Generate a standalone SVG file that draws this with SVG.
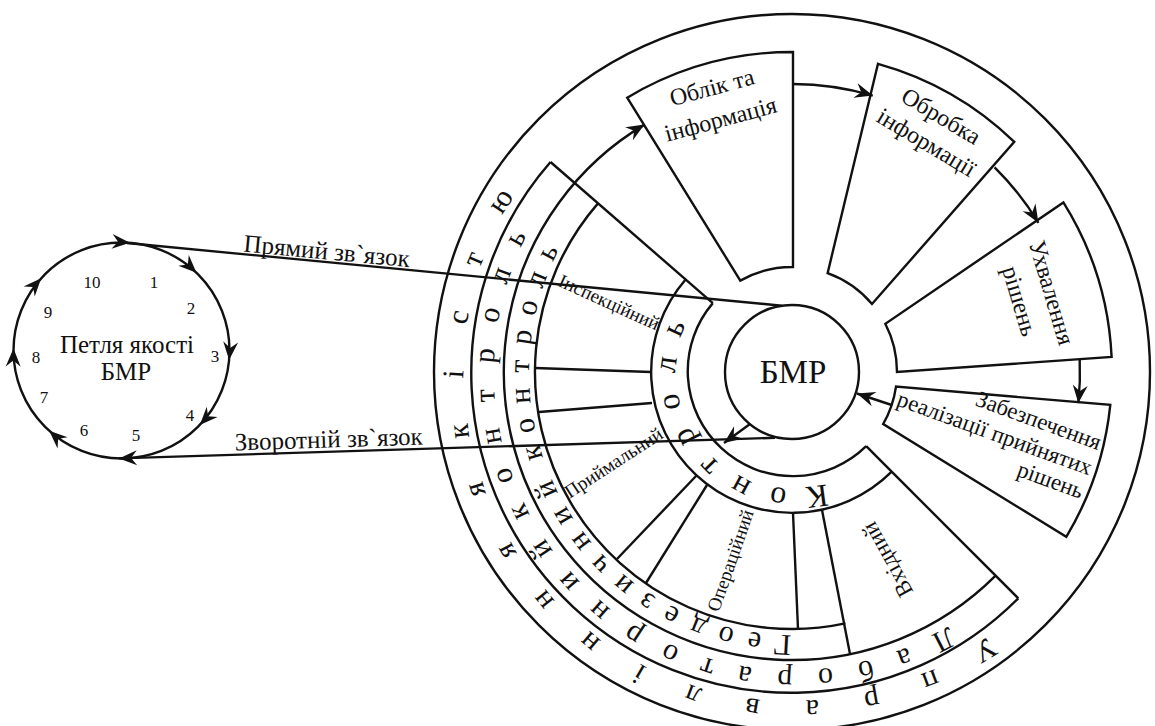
<svg xmlns="http://www.w3.org/2000/svg" xmlns:xlink="http://www.w3.org/1999/xlink" width="1155" height="726" viewBox="0 0 1155 726">
<style>
.ln{fill:none;stroke:#111;stroke-width:2.4}
text{font-family:'Liberation Serif','DejaVu Serif','Noto Serif',serif;fill:#111}
.side{font-size:25px}
.proc{font-size:24px}
.small{font-size:19px}
.num{font-size:17px;text-anchor:middle}
.ring{font-size:30px}
</style>
<defs>
<marker id="ah" viewBox="-19 -8 21 16" markerWidth="21" markerHeight="16" refX="0" refY="0" orient="auto" markerUnits="userSpaceOnUse">
<path d="M0,0 L-18,-7.5 L-12,0 L-18,7.5 Z" fill="#111"/>
</marker>
<path id="lah" d="M0,0 L-18,-7.5 L-12,0 L-18,7.5 Z" fill="#111"/>
<path id="r1" d="M 1120 372 A 328 328 0 1 1 464 372 A 328 328 0 1 1 1120 372"/>
<path id="r2" d="M 1090 372 A 298 298 0 1 1 494 372 A 298 298 0 1 1 1090 372"/>
<path id="r3" d="M 1055 372 A 263 263 0 1 1 529 372 A 263 263 0 1 1 1055 372"/>
<path id="r4" d="M 908 372 A 116 116 0 1 1 676 372 A 116 116 0 1 1 908 372"/>
</defs>
<rect width="1155" height="726" fill="#fff"/>

<g id="loop">
<circle class="ln" cx="121.5" cy="350.5" r="108"/>
<use href="#lah" transform="translate(130,242.8) rotate(4.5)"/>
<use href="#lah" transform="translate(196.5,272.8) rotate(44)"/>
<use href="#lah" transform="translate(229.1,359.9) rotate(95)"/>
<use href="#lah" transform="translate(199.8,424.9) rotate(133.5)"/>
<use href="#lah" transform="translate(49.2,430.8) rotate(222)"/>
<use href="#lah" transform="translate(13.5,348.6) rotate(271)"/>
<use href="#lah" transform="translate(41.2,278.2) rotate(312)"/>
<text class="num" x="92" y="288">10</text>
<text class="num" x="154" y="288">1</text>
<text class="num" x="191" y="314">2</text>
<text class="num" x="215" y="362">3</text>
<text class="num" x="190" y="421">4</text>
<text class="num" x="136" y="441">5</text>
<text class="num" x="84" y="436">6</text>
<text class="num" x="44" y="403">7</text>
<text class="num" x="36" y="363">8</text>
<text class="num" x="48" y="318">9</text>
<text class="side" x="127" y="353" text-anchor="middle">Петля якості</text>
<text class="side" x="126" y="380" text-anchor="middle">БМР</text>
</g>

<g id="outer-ring">
<circle class="ln" cx="792" cy="372" r="358"/>
</g>

<g id="control">
<path class="ln" d="M 1018.3 598.3 A 320 320 0 0 1 550.5 162"/>
<path class="ln" d="M 712.8 303.1 L 550.5 162"/>
<path class="ln" d="M 866.2 446.2 L 1018.3 598.3"/>
<path class="ln" d="M 845.4 623.4 A 257 257 0 0 1 598 203.4"/>
<path class="ln" d="M 891.7 471.7 A 141 141 0 0 1 685.6 279.5"/>
<path class="ln" d="M 866.2 446.2 A 105 105 0 0 1 712.8 303.1"/>
<path class="ln" d="M 535 368 L 651 372"/>
<path class="ln" d="M 539 412 L 652 403"/>
<path class="ln" d="M 617 559 L 697 475"/>
<path class="ln" d="M 646 583 L 707 485"/>
<path class="ln" d="M 798 629 L 793 513"/>
<path class="ln" d="M 850 654 L 822 510"/>
<text class="ring" letter-spacing="44.7" word-spacing="-43.9"><textPath href="#r1" startOffset="304.5">Управління якістю</textPath></text>
<text class="ring" letter-spacing="24.9" word-spacing="-30.4"><textPath href="#r2" startOffset="303.7">Лабораторний контроль</textPath></text>
<text class="ring" letter-spacing="14" word-spacing="-13.2"><textPath href="#r3" startOffset="413.6">Геодезичний контроль</textPath></text>
<text style="font-size:32px" letter-spacing="19.4"><textPath href="#r4" startOffset="147.2">Контроль</textPath></text>
<text class="small" text-anchor="middle" transform="translate(606.5,308) rotate(24.5)">Інспекційний</text>
<text class="small" text-anchor="middle" transform="translate(617,468) rotate(-33)">Приймальний</text>
<text class="small" text-anchor="middle" transform="translate(736.4,562.5) rotate(-70.7)">Операційний</text>
<text style="font-size:23px" text-anchor="middle" transform="translate(894,556) rotate(-119)">Вхідний</text>
</g>

<g id="bmr">
<circle class="ln" cx="792" cy="372" r="67"/>
<text style="font-size:33px" x="793" y="383" text-anchor="middle">БМР</text>
</g>

<g id="oblik">
<path class="ln" d="M 627.2 97.7 A 320 320 0 0 1 793 52 L 793 267 A 105 105 0 0 0 740.3 280.6 Z"/>
<g transform="translate(714,95) rotate(-15)">
<text class="proc" x="0" y="0" text-anchor="middle">Облік та</text>
<text class="proc" x="0" y="33" text-anchor="middle">інформація</text>
</g>
</g>

<g id="obrobka">
<path class="ln" d="M 878 63.8 A 320 320 0 0 1 1014.3 141.8 L 872 304 A 105 105 0 0 0 827.6 273.2 Z"/>
<g transform="translate(937,123) rotate(31)">
<text class="proc" x="0" y="0" text-anchor="middle">Обробка</text>
<text class="proc" x="1" y="30" text-anchor="middle">інформації</text>
</g>
</g>

<g id="ukhvalennia">
<path class="ln" d="M 1063.4 202.4 A 320 320 0 0 1 1111.6 356.9 L 897 372 A 105 105 0 0 0 885.3 323.8 Z"/>
<g transform="translate(1044,295) rotate(73.5)">
<text class="proc" x="0" y="0" text-anchor="middle">Ухвалення</text>
<text class="proc" x="-1" y="33" text-anchor="middle">рішень</text>
</g>
</g>

<g id="zabezpechennia">
<path class="ln" d="M 1110.3 404.9 A 320 320 0 0 1 1066.3 536.8 L 883.2 424 A 105 105 0 0 0 896 386.6 Z"/>
<g transform="translate(1098,450) rotate(20)" style="font-size:23px">
<text x="0" y="0" text-anchor="end">Забезпечення</text>
<text x="0" y="27" text-anchor="end">реалізації прийнятих</text>
<text x="0" y="52" text-anchor="end">рішень</text>
</g>
</g>

<g id="connectors">
<path class="ln" d="M 995.6 575.6 A 288 288 0 1 1 644.5 124.6" marker-end="url(#ah)"/>
<path class="ln" d="M 793 84 A 288 288 0 0 1 872.8 95.6" marker-end="url(#ah)"/>
<path class="ln" d="M 994.6 167.3 A 288 288 0 0 1 1038.4 222.8" marker-end="url(#ah)"/>
<path class="ln" d="M 1079.7 359.9 A 288 288 0 0 1 1078.3 403.1" marker-end="url(#ah)"/>
<path class="ln" d="M 891.7 405 L 857 393.5" marker-end="url(#ah)"/>
<path class="ln" d="M 750 424 L 724 443" marker-end="url(#ah)"/>
<path class="ln" d="M 127 243 L 782 305.7"/>
<path class="ln" d="M 775 437.8 L 119 458.4" marker-end="url(#ah)"/>
<text class="side" transform="translate(243,251.5) rotate(5.4)">Прямий зв`язок</text>
<text class="side" transform="translate(235,450.5) rotate(-1.8)">Зворотній зв`язок</text>
</g>
</svg>
